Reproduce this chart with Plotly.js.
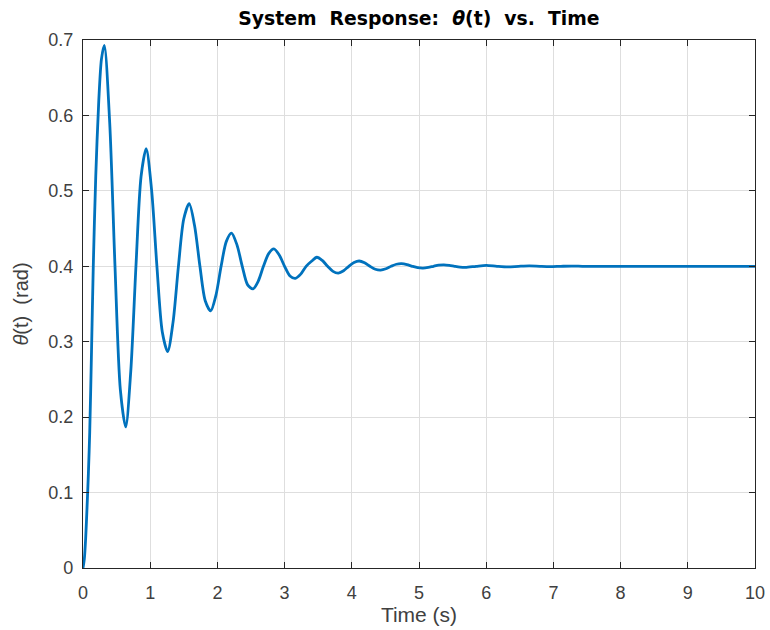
<!DOCTYPE html>
<html>
<head>
<meta charset="utf-8">
<script src="https://cdn.plot.ly/plotly-3.0.1.min.js"></script>
<style>
html,body{margin:0;padding:0;background:#fff;}
#chart{width:770px;height:630px;}
</style>
</head>
<body>
<div id="chart"></div>
<script>
// Time samples (s)
const timeS = [
  0, 0.02, 0.04, 0.06, 0.08, 0.10, 0.125, 0.153, 0.19, 0.235, 0.275, 0.317,
  0.397, 0.476, 0.556, 0.635,
  0.711, 0.788, 0.864, 0.94,
  1.02, 1.10, 1.18, 1.26,
  1.34, 1.42, 1.50, 1.58,
  1.66, 1.74, 1.82, 1.90,
  1.978, 2.055, 2.133, 2.21,
  2.29, 2.37, 2.45, 2.53,
  2.608, 2.685, 2.763, 2.84,
  2.92, 3.00, 3.08, 3.16,
  3.24, 3.32, 3.40, 3.48,
  3.56, 3.64, 3.72, 3.80,
  3.878, 3.955, 4.033, 4.11,
  4.19, 4.27, 4.35, 4.43,
  4.508, 4.585, 4.663, 4.74,
  4.82, 4.90, 4.98, 5.06,
  5.138, 5.215, 5.293, 5.37,
  5.45, 5.53, 5.61, 5.69,
  5.85, 6.00, 6.16, 6.32, 6.48, 6.64, 6.80, 6.95, 7.11, 7.27, 7.43, 7.60,
  8.0, 8.5, 9.0, 9.5, 10.0
];
// theta(t) in rad
const thetaRad = [
  0, 0.012, 0.04, 0.08, 0.125, 0.18, 0.28, 0.40, 0.52, 0.62, 0.675, 0.693,
  0.591, 0.40, 0.236, 0.187,
  0.261, 0.40, 0.519, 0.556,
  0.502, 0.40, 0.313, 0.287,
  0.326, 0.40, 0.463, 0.483,
  0.454, 0.40, 0.354, 0.341,
  0.3615, 0.40, 0.433, 0.444,
  0.4287, 0.40, 0.3754, 0.370,
  0.3804, 0.40, 0.4168, 0.423,
  0.415, 0.40, 0.3871, 0.384,
  0.3896, 0.40, 0.4067, 0.412,
  0.4078, 0.40, 0.3933, 0.391,
  0.3941, 0.40, 0.4050, 0.407,
  0.4046, 0.40, 0.3961, 0.395,
  0.3967, 0.40, 0.4027, 0.4035,
  0.4023, 0.40, 0.3981, 0.3975,
  0.3984, 0.40, 0.4015, 0.402,
  0.4013, 0.40, 0.3989, 0.3985,
  0.40, 0.4012, 0.40, 0.3992, 0.40, 0.4006, 0.40, 0.3996, 0.40, 0.4003, 0.40, 0.3998,
  0.40, 0.40, 0.40, 0.40, 0.40
];
const xTicks = [0,1,2,3,4,5,6,7,8,9,10];
const yTicks = [0,0.1,0.2,0.3,0.4,0.5,0.6,0.7];
const yTickText = ['0','0.1','0.2','0.3','0.4','0.5','0.6','0.7'];

const NB = '\u00a0';
const titleText = '<b>System' + NB + NB + 'Response:' + NB + NB + '<i>θ</i>(t)' + NB + NB + 'vs.' + NB + NB + 'Time</b>';
const yTitleText = '<i>θ</i>(t)' + NB + NB + '(rad)';

const trace = {
  x: timeS, y: thetaRad, type: 'scatter', mode: 'lines',
  line: {color: '#0072BD', width: 2.8, shape: 'spline', smoothing: 0.8},
  hoverinfo: 'skip'
};

const FONT = 'Liberation Sans, Arial, sans-serif';
const axisCommon = {
  showline: true, linecolor: '#262626', linewidth: 1.2, mirror: 'ticks',
  ticks: 'inside', ticklen: 6, tickcolor: '#262626', tickwidth: 1,
  showgrid: true, gridcolor: '#dedede', gridwidth: 1,
  zeroline: false,
  tickfont: {family: FONT, size: 18, color: '#404040'}
};

const layout = {
  width: 770, height: 630,
  margin: {l: 83, r: 15, t: 40, b: 62, pad: 0},
  paper_bgcolor: '#fff', plot_bgcolor: '#fff',
  showlegend: false,
  title: {text: titleText, x: 0.544, xanchor: 'center', y: 0.971, yanchor: 'middle',
          font: {family: 'DejaVu Sans, Verdana, sans-serif', size: 18.8, color: '#000'}},
  xaxis: Object.assign({}, axisCommon, {
    range: [0, 10], tickvals: xTicks, ticktext: xTicks.map(String),
    ticklabelstandoff: 8,
    title: {text: 'Time (s)', standoff: 4, font: {family: FONT, size: 21, color: '#404040'}}
  }),
  yaxis: Object.assign({}, axisCommon, {
    range: [0, 0.7], tickvals: yTicks, ticktext: yTickText,
    ticklabelstandoff: 5,
    title: {text: yTitleText, standoff: 14, font: {family: FONT, size: 20, color: '#404040'}}
  })
};

Plotly.newPlot('chart', [trace], layout, {displayModeBar: false, staticPlot: true});
</script>
</body>
</html>
